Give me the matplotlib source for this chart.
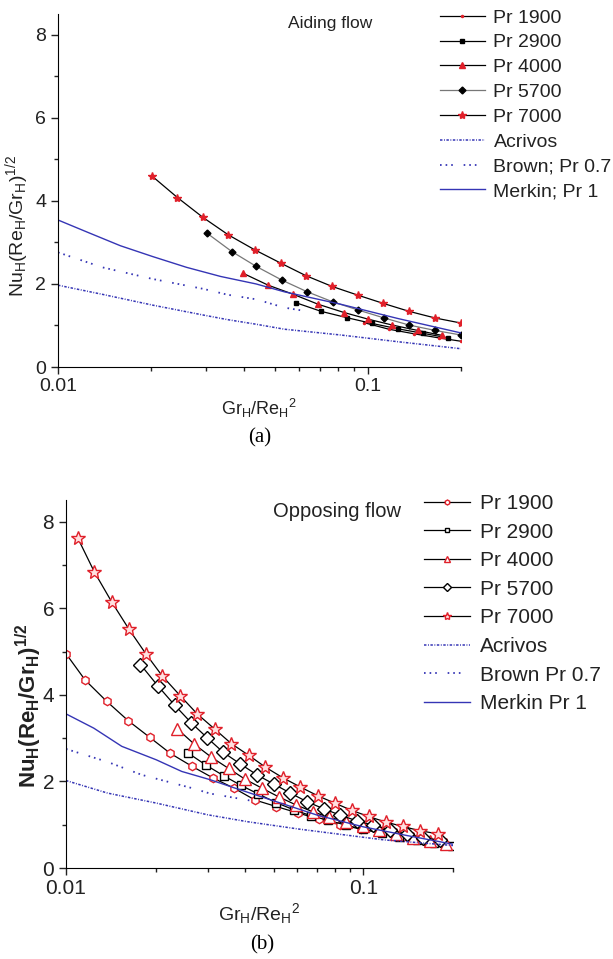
import matplotlib
matplotlib.use("Agg")
import matplotlib.pyplot as plt
from matplotlib.ticker import NullFormatter, FixedLocator, LogLocator

plt.rcParams["font.family"] = ["Liberation Sans", "DejaVu Sans"]
plt.rcParams["mathtext.default"] = "regular"

# ---------------- (a) aiding flow ----------------
a_x_1900 = [0.097, 0.117, 0.141, 0.170, 0.200]
a_y_1900 = [1.07, 0.91, 0.80, 0.70, 0.62]
a_x_2900 = [0.0585, 0.0707, 0.0854, 0.103, 0.125, 0.151, 0.182]
a_y_2900 = [1.55, 1.34, 1.19, 1.05, 0.92, 0.81, 0.70]
a_x_4000 = [0.0395, 0.0477, 0.0575, 0.0692, 0.084, 0.1005, 0.12, 0.145, 0.174]
a_y_4000 = [2.26, 1.97, 1.75, 1.51, 1.31, 1.15, 1.01, 0.88, 0.76]
a_x_5700 = [0.0303, 0.0364, 0.0437, 0.0529, 0.0638, 0.077, 0.0933, 0.113, 0.136, 0.165, 0.2]
a_y_5700 = [3.22, 2.78, 2.42, 2.09, 1.81, 1.57, 1.37, 1.18, 1.01, 0.88, 0.77]
a_x_7000 = [0.0201, 0.0243, 0.0294, 0.0355, 0.0432, 0.0524, 0.0631, 0.0767, 0.0929,
            0.1124, 0.136, 0.165, 0.1995]
a_y_7000 = [4.60, 4.08, 3.60, 3.18, 2.82, 2.50, 2.20, 1.94, 1.73, 1.53, 1.34, 1.18, 1.06]
a_x_acrivos = [0.01, 0.0139, 0.0202, 0.0295, 0.0353, 0.0436, 0.0538, 0.0819, 0.1247, 0.2]
a_y_acrivos = [1.97, 1.75, 1.49, 1.25, 1.14, 1.03, 0.91, 0.77, 0.61, 0.44]
a_x_brown = [0.01, 0.0139, 0.0202, 0.0295, 0.0353, 0.0436, 0.0538, 0.065]
a_y_brown = [2.76, 2.40, 2.12, 1.88, 1.74, 1.63, 1.43, 1.33]
a_x_merkin = [0.01, 0.0125, 0.0159, 0.0202, 0.026, 0.0335, 0.0436, 0.0538, 0.0819, 0.1247, 0.2]
a_y_merkin = [3.54, 3.24, 2.92, 2.66, 2.40, 2.18, 2.00, 1.81, 1.51, 1.17, 0.82]

# ---------------- (b) opposing flow ----------------
b_x_1900 = [0.01, 0.0116, 0.0137, 0.0162, 0.0191, 0.0224, 0.0265, 0.0312, 0.0368, 0.0432,
            0.0509, 0.0603, 0.0709, 0.0832, 0.098, 0.1146, 0.136, 0.160, 0.188]
b_y_1900 = [4.95, 4.34, 3.85, 3.40, 3.02, 2.65, 2.35, 2.08, 1.84, 1.57, 1.42, 1.27, 1.13,
            1.00, 0.90, 0.82, 0.72, 0.63, 0.55]
b_x_2900 = [0.0258, 0.0295, 0.0339, 0.0387, 0.0443, 0.0509, 0.0585, 0.0665, 0.076, 0.0875,
            0.1, 0.115, 0.132, 0.151, 0.173, 0.198]
b_y_2900 = [2.65, 2.38, 2.13, 1.91, 1.71, 1.51, 1.34, 1.21, 1.10, 0.99, 0.89, 0.80, 0.72,
            0.64, 0.57, 0.50]
b_x_4000 = [0.0237, 0.027, 0.0308, 0.0352, 0.040, 0.0457, 0.052, 0.0592, 0.0675, 0.0768,
            0.0875, 0.0995, 0.113, 0.129, 0.147, 0.167, 0.19]
b_y_4000 = [3.21, 2.86, 2.56, 2.30, 2.05, 1.84, 1.64, 1.46, 1.30, 1.17, 1.07, 0.96, 0.88,
            0.78, 0.70, 0.62, 0.55]
b_x_5700 = [0.0178, 0.0204, 0.0232, 0.0264, 0.0298, 0.0338, 0.0386, 0.0439, 0.0499, 0.0568,
            0.0646, 0.0734, 0.0835, 0.095, 0.108, 0.123, 0.140, 0.159, 0.181]
b_y_5700 = [4.70, 4.20, 3.76, 3.35, 3.01, 2.67, 2.40, 2.15, 1.94, 1.73, 1.53, 1.37, 1.22,
            1.09, 0.99, 0.88, 0.78, 0.70, 0.64]
b_x_7000 = [0.01094, 0.01245, 0.01426, 0.0163, 0.01854, 0.0211, 0.0242, 0.0276, 0.0316,
            0.036, 0.0412, 0.0468, 0.0537, 0.0614, 0.0701, 0.080, 0.0914, 0.104, 0.119,
            0.1355, 0.155, 0.1775]
b_y_7000 = [7.63, 6.84, 6.14, 5.51, 4.95, 4.43, 3.98, 3.56, 3.21, 2.87, 2.60, 2.33, 2.08,
            1.87, 1.67, 1.50, 1.33, 1.19, 1.06, 0.96, 0.86, 0.79]
b_x_acrivos = [0.01, 0.0138, 0.0201, 0.0299, 0.0407, 0.0605, 0.117, 0.2]
b_y_acrivos = [2.02, 1.73, 1.50, 1.23, 1.07, 0.90, 0.65, 0.52]
b_x_brown = [0.01, 0.0138, 0.018, 0.0267, 0.0305, 0.0423]
b_y_brown = [2.75, 2.45, 2.15, 1.84, 1.72, 1.55]
b_x_merkin = [0.01, 0.0124, 0.0154, 0.0201, 0.0245, 0.0305, 0.0372, 0.05, 0.07, 0.1, 0.14, 0.2]
b_y_merkin = [3.56, 3.23, 2.81, 2.50, 2.23, 2.04, 1.84, 1.55, 1.22, 0.95, 0.75, 0.55]

pr_labels = ["Pr 1900", "Pr 2900", "Pr 4000", "Pr 5700", "Pr 7000"]
RED = "#e0202a"
BLUE = "#3535b5"
TXT = "#222222"
ACRIVOS_LS = (0, (1.6, 1.0, 0.6, 1.0))
BROWN_LS = (0, (0.9, 2.2, 0.9, 2.2, 0.9, 6))


def style_axes(ax, fs):
    ax.set_xscale("log")
    ax.set_xlim(0.01, 0.2)
    ax.set_ylim(0, 8.5)
    ax.set_xticks([0.01, 0.1], ["0.01", "0.1"])
    ax.xaxis.set_minor_locator(LogLocator(base=10, subs=range(2, 10)))
    ax.xaxis.set_minor_formatter(NullFormatter())
    ax.set_yticks([0, 2, 4, 6, 8])
    ax.yaxis.set_minor_locator(FixedLocator([1, 3, 5, 7]))
    for s in ("top", "right"):
        ax.spines[s].set_visible(False)
    ax.tick_params(which="major", length=5, width=1, labelsize=fs, color=TXT,
                   labelcolor=TXT)
    ax.tick_params(which="minor", length=3, width=1, color=TXT)
    ax.tick_params(axis="x", pad=3)


fig = plt.figure(figsize=(6.13, 9.59), dpi=100)

# ---- panel (a)
ax1 = fig.add_axes([58 / 613, 1 - 367 / 959, (461 - 58) / 613, (367 - 14) / 959])
ax1.plot(a_x_1900, a_y_1900, "-", color="k", lw=0.9, marker=".", ms=3, mfc=RED, mec=RED,
         label=pr_labels[0])
ax1.plot(a_x_2900, a_y_2900, "-", color="k", lw=0.9, marker="s", ms=3, mfc="k", mec="k",
         label=pr_labels[1])
ax1.plot(a_x_4000, a_y_4000, "-", color="k", lw=0.9, marker="^", ms=4, mfc=RED, mec=RED,
         label=pr_labels[2])
ax1.plot(a_x_5700, a_y_5700, "-", color="#777777", lw=0.9, marker="D", ms=3.5, mfc="k",
         mec="k", label=pr_labels[3])
ax1.plot(a_x_7000, a_y_7000, "-", color="k", lw=0.9, marker="*", ms=6, mfc=RED, mec=RED,
         label=pr_labels[4])
ax1.plot(a_x_acrivos, a_y_acrivos, color=BLUE, lw=1.1, ls=ACRIVOS_LS, label="Acrivos")
ax1.plot(a_x_brown, a_y_brown, color=BLUE, lw=1.3, ls=BROWN_LS, label="Brown; Pr 0.7")
ax1.plot(a_x_merkin, a_y_merkin, color=BLUE, lw=1.0, label="Merkin; Pr 1")
style_axes(ax1, 14)
ax1.set_ylabel(r"Nu$_H$(Re$_H$/Gr$_H$)$^{1/2}$", fontsize=14, color=TXT)
ax1.yaxis.set_label_coords(-0.068, 0.40)
ax1.set_xlabel(r"Gr$_H$/Re$_H$$^2$", fontsize=13, color=TXT, labelpad=1)
ax1.text(0.675, 0.995, "Aiding flow", transform=ax1.transAxes, ha="center", va="top",
         fontsize=12.5, color=TXT)
ax1.legend(loc="upper left", bbox_to_anchor=(440 / 613, 1 - 9 / 959),
           bbox_transform=fig.transFigure, frameon=False, fontsize=14, borderpad=0,
           borderaxespad=0, labelspacing=0.37, handlelength=2.3, handletextpad=0.45,
           labelcolor=TXT)
fig.text(260 / 613, 1 - 438 / 959, "(a)", ha="center", va="center", fontsize=15,
         family="Liberation Serif")

# ---- panel (b)
ax2 = fig.add_axes([66 / 613, 1 - 868 / 959, (453 - 66) / 613, (868 - 500) / 959])
ax2.plot(b_x_1900, b_y_1900, "-", color="k", lw=0.9, marker="h", ms=6, mfc="white", mec=RED,
         mew=1.0, label=pr_labels[0])
ax2.plot(b_x_2900, b_y_2900, "-", color="k", lw=0.9, marker="s", ms=5.5, mfc="white", mec="k",
         mew=1.0, label=pr_labels[1])
ax2.plot(b_x_4000, b_y_4000, "-", color="k", lw=0.9, marker="^", ms=8, mfc="white", mec=RED,
         mew=1.0, label=pr_labels[2])
ax2.plot(b_x_5700, b_y_5700, "-", color="k", lw=0.9, marker="D", ms=7, mfc="white", mec="k",
         mew=1.0, label=pr_labels[3])
ax2.plot(b_x_7000, b_y_7000, "-", color="k", lw=0.9, marker="*", ms=10, mfc="#ffe0e0",
         mec=RED, mew=1.0, label=pr_labels[4])
ax2.plot(b_x_acrivos, b_y_acrivos, color=BLUE, lw=1.1, ls=ACRIVOS_LS, label="Acrivos")
ax2.plot(b_x_brown, b_y_brown, color=BLUE, lw=1.3, ls=BROWN_LS, label="Brown Pr 0.7")
ax2.plot(b_x_merkin, b_y_merkin, color=BLUE, lw=1.0, label="Merkin Pr 1")
style_axes(ax2, 15)
ax2.set_ylabel(r"Nu$_H$(Re$_H$/Gr$_H$)$^{1/2}$", fontsize=16, fontweight="bold", color=TXT)
ax2.yaxis.set_label_coords(-0.057, 0.44)
ax2.set_xlabel(r"Gr$_H$/Re$_H$$^2$", fontsize=14, color=TXT, labelpad=2)
ax2.text(0.70, 0.995, "Opposing flow", transform=ax2.transAxes, ha="center", va="top",
         fontsize=14.5, color=TXT)
ax2.legend(loc="upper left", bbox_to_anchor=(424 / 613, 1 - 494 / 959),
           bbox_transform=fig.transFigure, frameon=False, fontsize=15, borderpad=0,
           borderaxespad=0, labelspacing=0.46, handlelength=2.2, handletextpad=0.5,
           markerscale=0.6, labelcolor=TXT)
fig.text(262 / 613, 1 - 945 / 959, "(b)", ha="center", va="center", fontsize=15,
         family="Liberation Serif")

fig.savefig("out.png", dpi=100)
